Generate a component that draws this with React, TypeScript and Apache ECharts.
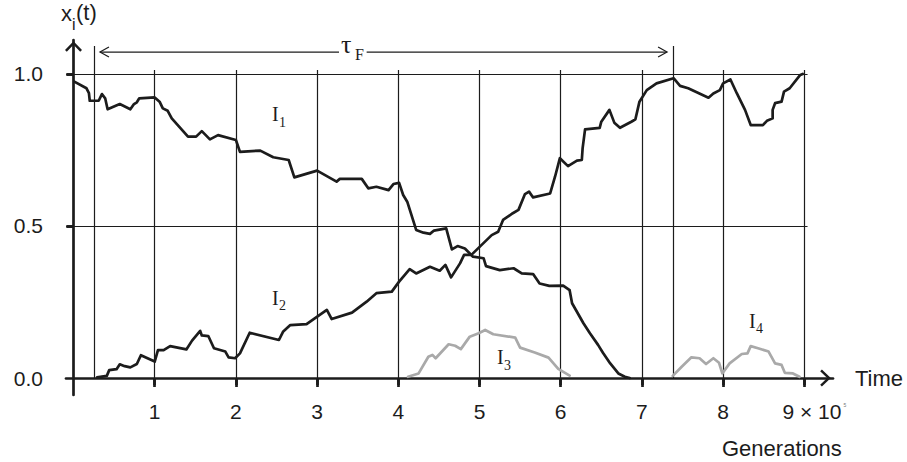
import React, { useEffect, useRef } from 'react';
import * as echarts from 'echarts';

// ---- data (x in units of 10^5 generations, y = frequency x_i(t)) ----
const xTickValues = [1, 2, 3, 4, 5, 6, 7, 8, 9];
const yTickValues = [0, 0.5, 1];
const yGridLevels = [0.5, 1.0];
const tauBounds = [0.26, 7.39];

const seriesI1: number[][] = [
  [0.01, 0.975], [0.16, 0.953], [0.19, 0.937], [0.2, 0.912], [0.31, 0.912], [0.35, 0.934], [0.39, 0.92],
  [0.42, 0.884], [0.57, 0.901], [0.7, 0.884], [0.745, 0.901], [0.78, 0.907], [0.81, 0.92], [1.0, 0.923],
  [1.06, 0.909], [1.1, 0.887], [1.16, 0.879], [1.21, 0.854], [1.41, 0.794], [1.51, 0.794], [1.58, 0.812],
  [1.68, 0.785], [1.78, 0.799], [2.0, 0.783], [2.05, 0.744], [2.3, 0.748], [2.46, 0.726], [2.65, 0.717],
  [2.72, 0.66], [3.0, 0.682], [3.24, 0.646], [3.28, 0.655], [3.55, 0.655], [3.63, 0.624], [3.73, 0.629],
  [3.88, 0.618], [3.94, 0.638], [4.01, 0.642], [4.06, 0.602], [4.11, 0.58], [4.22, 0.487], [4.31, 0.478],
  [4.39, 0.474], [4.44, 0.485], [4.59, 0.492], [4.66, 0.423], [4.73, 0.434], [4.82, 0.426], [4.92, 0.399],
  [5.05, 0.394], [5.08, 0.368], [5.25, 0.355], [5.42, 0.361], [5.52, 0.344], [5.66, 0.342], [5.74, 0.311],
  [5.86, 0.303], [6.03, 0.304], [6.11, 0.289], [6.14, 0.246], [6.28, 0.18], [6.36, 0.147], [6.46, 0.109],
  [6.52, 0.083], [6.61, 0.048], [6.71, 0.015], [6.79, 0.004], [6.85, 0.0],
];

const seriesI2: number[][] = [
  [0.29, 0.002], [0.41, 0.007], [0.44, 0.026], [0.53, 0.029], [0.57, 0.045], [0.63, 0.039], [0.7, 0.035],
  [0.78, 0.046], [0.83, 0.075], [1.0, 0.054], [1.04, 0.092], [1.11, 0.092], [1.19, 0.105], [1.39, 0.094],
  [1.46, 0.123], [1.56, 0.155], [1.58, 0.14], [1.66, 0.138], [1.73, 0.098], [1.87, 0.087], [1.91, 0.068],
  [1.99, 0.065], [2.05, 0.081], [2.17, 0.149], [2.53, 0.125], [2.58, 0.152], [2.67, 0.174], [2.87, 0.177],
  [3.12, 0.224], [3.18, 0.194], [3.43, 0.215], [3.61, 0.251], [3.73, 0.279], [3.92, 0.284], [4.01, 0.317],
  [4.14, 0.358], [4.22, 0.344], [4.39, 0.366], [4.51, 0.353], [4.58, 0.372], [4.65, 0.331], [4.76, 0.377],
  [4.81, 0.405], [4.9, 0.405], [5.15, 0.47], [5.23, 0.481], [5.29, 0.52], [5.41, 0.542], [5.48, 0.553],
  [5.56, 0.605], [5.61, 0.613], [5.66, 0.594], [5.87, 0.607], [5.93, 0.662], [5.99, 0.723], [6.09, 0.697],
  [6.2, 0.715], [6.26, 0.717], [6.27, 0.756], [6.3, 0.818], [6.48, 0.823], [6.5, 0.843], [6.6, 0.882],
  [6.66, 0.84], [6.73, 0.823], [6.87, 0.843], [6.92, 0.851], [6.97, 0.909], [7.06, 0.947], [7.18, 0.969],
  [7.39, 0.986], [7.47, 0.961], [7.57, 0.953], [7.82, 0.922], [7.88, 0.936], [7.96, 0.947], [8.0, 0.969],
  [8.09, 0.982], [8.17, 0.936], [8.27, 0.882], [8.34, 0.832], [8.49, 0.832], [8.54, 0.846], [8.61, 0.854],
  [8.61, 0.882], [8.64, 0.904], [8.72, 0.909], [8.75, 0.942], [8.82, 0.953], [8.95, 0.997], [8.98, 1.0],
];

const seriesI3: number[][] = [
  [4.12, 0.004], [4.25, 0.015], [4.37, 0.07], [4.42, 0.076], [4.46, 0.065], [4.62, 0.111], [4.7, 0.106],
  [4.77, 0.095], [4.88, 0.136], [4.99, 0.147], [5.07, 0.158], [5.17, 0.144], [5.44, 0.133], [5.5, 0.1],
  [5.68, 0.084], [5.85, 0.067], [5.97, 0.03], [6.11, 0.008],
];

const seriesI4: number[][] = [
  [7.38, 0.007], [7.49, 0.037], [7.61, 0.068], [7.71, 0.065], [7.79, 0.046], [7.88, 0.065], [7.95, 0.05],
  [7.99, 0.015], [8.08, 0.048], [8.23, 0.079], [8.3, 0.081], [8.34, 0.105], [8.43, 0.098], [8.56, 0.087],
  [8.64, 0.048], [8.72, 0.043], [8.76, 0.017], [8.86, 0.015], [8.94, 0.004],
];

// ---- styles ----
const INK = '#1c1c1c';
const GREY = '#a9a9a9';
const SANS = '"Liberation Sans", Arial, Helvetica, sans-serif';
const SERIF = '"Liberation Serif", "Times New Roman", serif';
const CHEVRON = 'path://M80,0 L160,84 L143,100 L80,34 L17,100 L0,84 Z';

const X_MIN = -0.0924;
const X_MAX = 9.3534;
const Y_MIN = -0.0559;
const Y_MAX = 1.1118;
const GRID_TOP_V = 1.013;
const TAU_TOP_V = 1.092;
const H_LINE_FROM = -0.09;
const H_LINE_TO = 9.04;
const ARROW_Y = 1.072;
const ARROW_FROM = 0.326;
const ARROW_TO = 7.31;
const GAP_FROM = 3.27;
const GAP_TO = 3.61;

export default function App() {
  const ref = useRef<HTMLDivElement>(null);

  useEffect(() => {
    const el = ref.current!;
    const chart = echarts.init(el, null, { renderer: 'svg' });

    const gridLine = { type: 'solid', color: INK, width: 1.2 };
    const markData: any[] = [];
    xTickValues.forEach((k) => markData.push([{ coord: [k, 0] }, { coord: [k, GRID_TOP_V] }]));
    tauBounds.forEach((k) => markData.push([{ coord: [k, 0] }, { coord: [k, TAU_TOP_V] }]));
    yGridLevels.forEach((v) => markData.push([{ coord: [H_LINE_FROM, v] }, { coord: [H_LINE_TO, v] }]));

    const curve = (name: string, data: number[][], color: string) => ({
      name,
      type: 'line',
      data,
      xAxisIndex: 0,
      yAxisIndex: 0,
      showSymbol: false,
      symbol: 'none',
      z: 5,
      lineStyle: { color, width: 2.7, join: 'round', cap: 'round' },
      silent: true,
    });

    const option: any = {
      animation: false,
      backgroundColor: '#ffffff',
      grid: { left: 66, right: 74, top: 40, bottom: 67, containLabel: false },
      xAxis: [
        {
          type: 'value',
          min: X_MIN,
          max: X_MAX,
          name: 'Time',
          nameLocation: 'end',
          nameGap: 22,
          nameTextStyle: { fontFamily: SANS, fontSize: 22, color: INK, verticalAlign: 'middle' },
          axisLine: {
            show: true,
            onZero: true,
            symbol: ['none', CHEVRON],
            symbolSize: [17, 15],
            symbolOffset: [0, -7.5],
            lineStyle: { color: INK, width: 2.7 },
          },
          axisTick: { show: true, customValues: xTickValues, length: 7, lineStyle: { color: INK, width: 2.7 } },
          axisLabel: {
            show: true,
            customValues: xTickValues,
            margin: 6,
            fontFamily: SANS,
            fontSize: 21,
            color: INK,
            formatter: (v: number) => (v === 9 ? '{n|9 × 10}{s|5}' : String(v)),
            rich: {
              n: { fontFamily: SANS, fontSize: 21, color: INK, padding: [0, 0, 0, 20] },
              s: { fontFamily: SANS, fontSize: 5, color: '#777', padding: [0, 0, 14, 2] },
            },
          },
          splitLine: { show: false },
        },
        {
          type: 'value',
          min: X_MIN,
          max: X_MAX,
          axisLine: { show: false, onZero: true },
          axisTick: {
            show: true,
            inside: true,
            customValues: xTickValues,
            length: 9,
            lineStyle: { color: INK, width: 2.7 },
          },
          axisLabel: { show: false },
          splitLine: { show: false },
        },
      ],
      yAxis: [
        {
          type: 'value',
          min: Y_MIN,
          max: Y_MAX,
          axisLine: {
            show: true,
            onZero: true,
            symbol: ['none', CHEVRON],
            symbolSize: [17, 13],
            symbolOffset: [0, -6.5],
            lineStyle: { color: INK, width: 2.7 },
          },
          axisTick: { show: true, customValues: [0.5, 1], length: 7, lineStyle: { color: INK, width: 2.7 } },
          axisLabel: {
            show: true,
            customValues: yTickValues,
            margin: 23,
            fontFamily: SANS,
            fontSize: 21,
            color: INK,
            formatter: (v: number) => v.toFixed(1),
          },
          splitLine: { show: false },
        },
        {
          type: 'value',
          min: Y_MIN,
          max: Y_MAX,
          axisLine: { show: false, onZero: true },
          axisTick: {
            show: true,
            inside: true,
            customValues: [0.5, 1],
            length: 7,
            lineStyle: { color: INK, width: 2.7 },
          },
          axisLabel: { show: false },
          splitLine: { show: false },
        },
      ],
      series: [
        {
          name: 'grid',
          type: 'line',
          data: [],
          xAxisIndex: 0,
          yAxisIndex: 0,
          z: 1,
          silent: true,
          markLine: {
            silent: true,
            symbol: ['none', 'none'],
            label: { show: false },
            lineStyle: gridLine,
            emphasis: { disabled: true },
            data: markData,
          },
        },
        curve('I1', seriesI1, INK),
        curve('I2', seriesI2, INK),
        curve('I3', seriesI3, GREY),
        curve('I4', seriesI4, GREY),
      ],
    };

    chart.setOption(option);

    const px = (x: number, y: number) =>
      chart.convertToPixel({ xAxisIndex: 0, yAxisIndex: 0 }, [x, y]) as number[];
    const [ax0, ay] = px(ARROW_FROM, ARROW_Y);
    const [ax1] = px(ARROW_TO, ARROW_Y);
    const [g0] = px(GAP_FROM, ARROW_Y);
    const [g1] = px(GAP_TO, ARROW_Y);
    const thin = { stroke: INK, lineWidth: 1.2, fill: 'none' };

    const txt = (text: string, x: number, y: number, size: number, family: string, extra: any = {}) => ({
      type: 'text',
      x,
      y,
      silent: true,
      z: 10,
      style: {
        text,
        fontFamily: family,
        fontSize: size,
        fill: INK,
        verticalAlign: 'middle',
        align: 'left',
        ...extra,
      },
    });

    chart.setOption({
      graphic: [
        { type: 'line', silent: true, shape: { x1: ax0, y1: ay, x2: g0, y2: ay }, style: thin },
        { type: 'line', silent: true, shape: { x1: g1, y1: ay, x2: ax1, y2: ay }, style: thin },
        {
          type: 'polyline',
          silent: true,
          shape: { points: [[ax0 + 9, ay - 5], [ax0, ay], [ax0 + 9, ay + 5]] },
          style: thin,
        },
        {
          type: 'polyline',
          silent: true,
          shape: { points: [[ax1 - 9, ay - 5], [ax1, ay], [ax1 - 9, ay + 5]] },
          style: thin,
        },
        txt('τ', 341, 44, 26, SERIF),
        txt('F', 355, 54, 16, SERIF),
        txt('x', 61, 13, 22, SANS),
        txt('i', 72, 24, 16, SANS),
        txt('(t)', 76, 12, 22, SANS),
        txt('Generations', 722, 448, 22, SANS),
        txt('I', 272, 114, 20, SERIF),
        txt('1', 279, 122, 14, SERIF),
        txt('I', 272, 298, 20, SERIF),
        txt('2', 279, 305, 14, SERIF),
        txt('I', 497, 357, 20, SERIF),
        txt('3', 504, 365, 14, SERIF),
        txt('I', 749, 321, 20, SERIF),
        txt('4', 756, 328, 14, SERIF),
      ],
    });

    return () => chart.dispose();
  }, []);

  return (
    <div
      ref={ref}
      style={{ position: 'fixed', left: 0, top: 0, width: 907, height: 462, background: '#ffffff' }}
    />
  );
}
